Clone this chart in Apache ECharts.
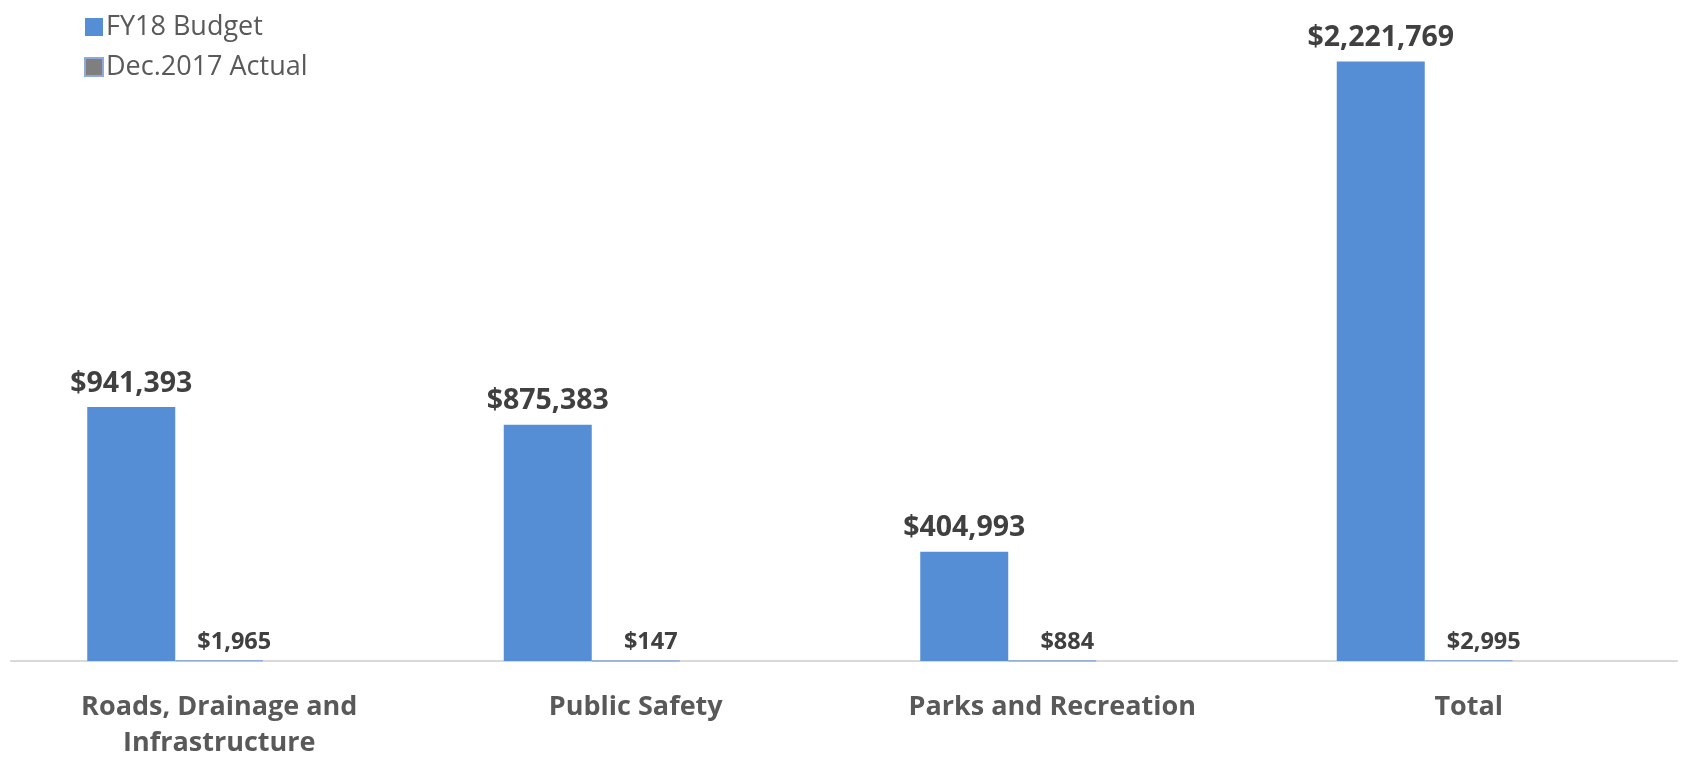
<!DOCTYPE html>
<html>
<head>
<meta charset="utf-8">
<script src="https://cdn.jsdelivr.net/npm/echarts@6/dist/echarts.min.js"></script>
<style>
html,body{margin:0;padding:0;background:#fff;}
#chart{width:1681px;height:761px;}
</style>
</head>
<body>
<div id="chart"></div>
<script>
const categories = ['Roads, Drainage and\nInfrastructure', 'Public Safety', 'Parks and Recreation', 'Total'];
const budgetFY18 = [941393, 875383, 404993, 2221769];
const actualDec2017 = [1965, 147, 884, 2995];
const emptySeries = [null, null, null, null];
const seriesNames = ['FY18 Budget', 'Dec.2017 Actual'];

const fmt = v => '$' + Number(v).toLocaleString('en-US');
const chart = echarts.init(document.getElementById('chart'), null, {renderer: 'canvas'});
chart.setOption({
  animation: false,
  backgroundColor: '#ffffff',
  legend: {
    data: seriesNames,
    orient: 'vertical',
    icon: 'rect',
    left: 79,
    top: 8,
    itemWidth: 18,
    itemHeight: 18,
    itemGap: 12,
    textStyle: {fontFamily: 'Open Sans', fontSize: 27, color: '#595959', lineHeight: 28, padding: [0, 0, 0, -2]}
  },
  grid: {left: 11, right: 4, top: 13.5, bottom: 94, containLabel: false},
  xAxis: {
    type: 'category',
    data: categories,
    axisLine: {lineStyle: {color: '#d9d9d9', width: 2}},
    axisTick: {show: false},
    axisLabel: {
      interval: 0,
      margin: 28,
      fontFamily: 'Open Sans',
      fontWeight: 'bold',
      fontSize: 27,
      lineHeight: 36,
      color: '#595959'
    }
  },
  yAxis: {
    type: 'value',
    min: 0,
    max: 2400000,
    show: false,
    splitLine: {show: false}
  },
  series: [
    {
      name: seriesNames[0],
      type: 'bar',
      data: budgetFY18,
      barWidth: 88,
      barGap: '0%',
      itemStyle: {color: '#558ed5'},
      label: {
        show: true,
        position: 'top',
        distance: 9,
        formatter: p => fmt(p.value),
        fontFamily: 'Open Sans',
        fontWeight: 'bold',
        fontSize: 28.5,
        color: '#404040'
      }
    },
    {
      name: seriesNames[1],
      type: 'bar',
      data: actualDec2017,
      barWidth: 88,
      barGap: '0%',
      itemStyle: {color: '#7f7f7f', borderColor: '#8eaadb', borderWidth: 1},
      label: {
        show: true,
        position: 'top',
        distance: 6,
        offset: [15, 0],
        formatter: p => fmt(p.value),
        fontFamily: 'Open Sans',
        fontWeight: 'bold',
        fontSize: 23.5,
        color: '#404040'
      }
    },
    {
      name: 'spacer',
      type: 'bar',
      data: emptySeries,
      barWidth: 88,
      barGap: '0%',
      itemStyle: {color: 'rgba(0,0,0,0)'}
    }
  ]
});
</script>
</body>
</html>
